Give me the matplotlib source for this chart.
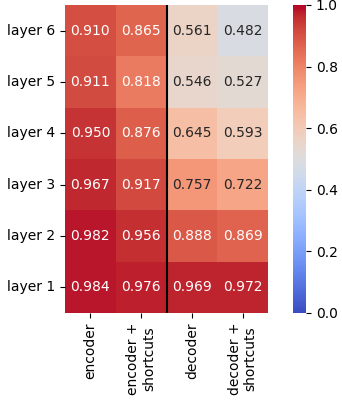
import numpy as np
import matplotlib
matplotlib.use("Agg")
import matplotlib.pyplot as plt
import seaborn as sns

# data
rows = ["layer 6", "layer 5", "layer 4", "layer 3", "layer 2", "layer 1"]
cols = ["encoder", "encoder +\nshortcuts", "decoder", "decoder +\nshortcuts"]
encoder = [0.910, 0.911, 0.950, 0.967, 0.982, 0.984]
encoder_sc = [0.865, 0.818, 0.876, 0.917, 0.956, 0.976]
decoder = [0.561, 0.546, 0.645, 0.757, 0.888, 0.969]
decoder_sc = [0.482, 0.527, 0.593, 0.722, 0.869, 0.972]

vals = np.array([encoder, encoder_sc, decoder, decoder_sc]).T

fig = plt.figure(figsize=(3.42, 4.01), dpi=100)
ax = fig.add_axes([65 / 342, 1 - 313 / 401, 203 / 342, 308 / 401])
cax = fig.add_axes([293 / 342, 1 - 313 / 401, 13 / 342, 308 / 401])

sns.heatmap(vals, ax=ax, cbar_ax=cax, cmap="coolwarm", vmin=0, vmax=1,
            annot=True, fmt=".3f", xticklabels=cols, yticklabels=rows)
ax.axvline(2, color="black", linewidth=1.5)
ax.set_yticklabels(rows, rotation=0)
ax.set_xticklabels(cols, rotation=90)
cax.set_yticks([0.0, 0.2, 0.4, 0.6, 0.8, 1.0])

fig.savefig("out.png", dpi=100)
